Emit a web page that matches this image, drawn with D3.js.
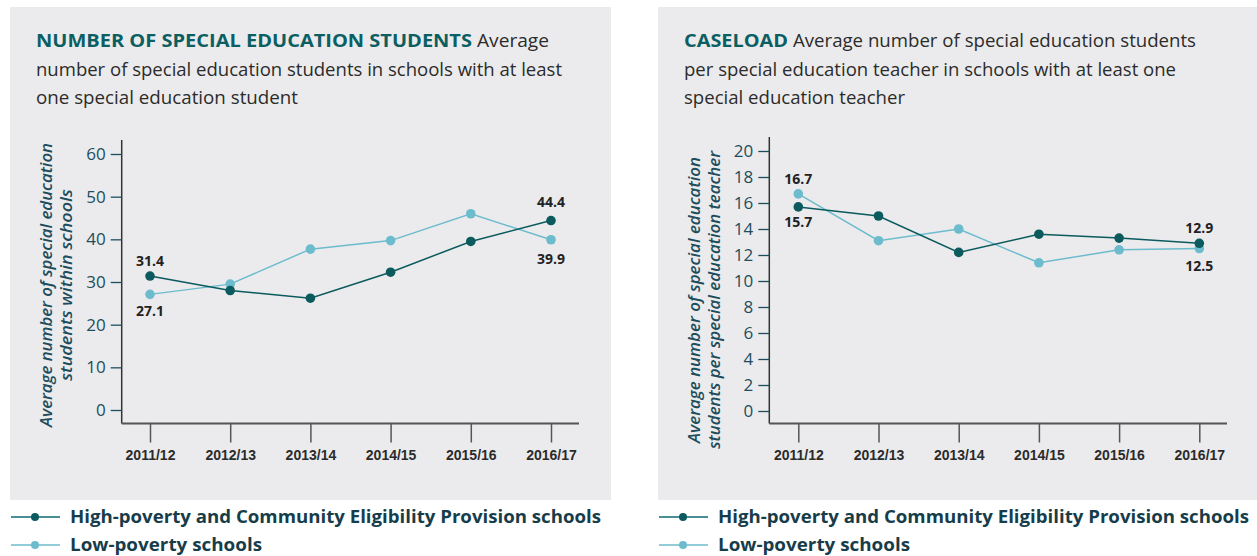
<!DOCTYPE html>
<html>
<head>
<meta charset="utf-8">
<script src="https://cdn.jsdelivr.net/npm/d3@7"></script>
<style>
  body { margin: 0; background: #fff; }
  svg { display: block; font-family: "Open Sans", "Noto Sans", sans-serif; }
</style>
</head>
<body>
<svg id="chart" width="1257" height="556"></svg>
<script>
var years = ["2011/12", "2012/13", "2013/14", "2014/15", "2015/16", "2016/17"];

// number of special education students
var studentsHigh = [31.4, 28.0, 26.2, 32.3, 39.5, 44.4];
var studentsLow = [27.1, 29.5, 37.7, 39.7, 46.0, 39.9];
var studentsTicks = [0, 10, 20, 30, 40, 50, 60];

// caseload
var caseloadHigh = [15.7, 15.0, 12.2, 13.6, 13.3, 12.9];
var caseloadLow = [16.7, 13.1, 14.0, 11.4, 12.4, 12.5];
var caseloadTicks = [0, 2, 4, 6, 8, 10, 12, 14, 16, 18, 20];

var seriesNames = ["High-poverty and Community Eligibility Provision schools", "Low-poverty schools"];

var darkCol = "#0a5a5e", lightCol = "#6cbccd";
var svg = d3.select("#chart");

function panel(opt) {
  var g = svg.append("g");
  g.append("rect").attr("x", opt.left).attr("y", 7).attr("width", opt.w).attr("height", 493)
    .attr("fill", "#ebebed");

  // title
  var tx = opt.left + 26;
  var t1 = g.append("text").attr("x", tx).attr("y", 47).attr("font-size", 18.5);
  t1.append("tspan").attr("font-weight", 700).attr("fill", "#0b5f63")
    .attr("textLength", opt.boldLen).attr("lengthAdjust", "spacingAndGlyphs").text(opt.bold);
  g.append("text").attr("x", tx + opt.boldLen + 5).attr("y", 47).attr("font-size", 18.5).attr("fill", "#2b2b2b")
    .attr("textLength", opt.restLen).attr("lengthAdjust", "spacingAndGlyphs").text(opt.rest);
  opt.lines.forEach(function(l, i) {
    g.append("text").attr("x", tx).attr("y", 75.5 + i * 28.5).attr("font-size", 18.5).attr("fill", "#2b2b2b")
      .attr("textLength", l[1]).attr("lengthAdjust", "spacingAndGlyphs").text(l[0]);
  });

  var x = d3.scalePoint().domain(years).range([opt.x0, opt.x0 + 401]);
  var y = d3.scaleLinear().domain(opt.domain).range([opt.y0, opt.y1]);

  // y axis
  var ya = g.append("g").attr("transform", "translate(" + opt.ax + ",0)")
    .call(d3.axisLeft(y).tickValues(opt.ticks).tickSize(11).tickPadding(5));
  ya.select(".domain").attr("d", "M0," + (opt.y1 - 14) + "V423.5").attr("stroke", "#333").attr("stroke-width", 1.5);
  ya.selectAll(".tick line").attr("stroke", "#1d4d5c").attr("stroke-width", 1.3);
  ya.selectAll(".tick text").attr("font-size", 17).attr("fill", "#1d4d5c")
    .attr("font-family", "'Open Sans', sans-serif").attr("font-weight", 400);

  // x axis
  var xa = g.append("g").attr("transform", "translate(0,423.5)")
    .call(d3.axisBottom(x).tickSize(19).tickPadding(8));
  xa.select(".domain").attr("d", "M" + opt.ax + ",0H" + opt.axEnd).attr("stroke", "#555").attr("stroke-width", 2);
  xa.selectAll(".tick line").attr("stroke", "#555").attr("stroke-width", 1.5);
  xa.selectAll(".tick text").attr("font-size", 14).attr("font-weight", 700).attr("fill", "#2b2b2b");

  // y label
  var cy = opt.labelY;
  opt.ylab.forEach(function(s, i) {
    g.append("text").attr("transform", "translate(" + opt.labX[i] + "," + cy + ") rotate(-90)")
      .attr("text-anchor", "middle").attr("dominant-baseline", "central")
      .attr("font-size", 16.5).attr("font-style", "italic").attr("font-weight", 600).attr("fill", "#1d4d5c")
      .attr("textLength", opt.labLen[i]).attr("lengthAdjust", "spacingAndGlyphs").text(s);
  });

  var line = d3.line().x(function(d, i) { return x(years[i]); }).y(function(d) { return y(d); });
  [[opt.low, lightCol], [opt.high, darkCol]].forEach(function(s) {
    g.append("path").attr("d", line(s[0])).attr("fill", "none").attr("stroke", s[1]).attr("stroke-width", 1.5);
    g.selectAll(null).data(s[0]).enter().append("circle")
      .attr("cx", function(d, i) { return x(years[i]); })
      .attr("cy", function(d) { return y(d); })
      .attr("r", 4.8).attr("fill", s[1]);
  });

  // value labels at the ends
  opt.valueLabels.forEach(function(v) {
    var arr = v.s === "h" ? opt.high : opt.low;
    g.append("text").attr("x", x(years[v.i])).attr("y", y(arr[v.i]) + v.dy)
      .attr("text-anchor", "middle").attr("font-size", 14).attr("font-weight", 700).attr("fill", "#222")
      .text(arr[v.i].toFixed(1));
  });

  // legend
  [darkCol, lightCol].forEach(function(c, i) {
    var ly = 517 + i * 28;
    g.append("line").attr("x1", opt.left + 1).attr("x2", opt.left + 50).attr("y1", ly).attr("y2", ly)
      .attr("stroke", i === 0 ? "#4a8f96" : "#92ccd8").attr("stroke-width", 2);
    g.append("circle").attr("cx", opt.left + 25).attr("cy", ly).attr("r", 4).attr("fill", c);
    g.append("text").attr("x", opt.left + 60).attr("y", ly + 6).attr("font-size", 17.5).attr("font-weight", 700)
      .attr("fill", "#173d4a").attr("textLength", opt.legLen[i]).attr("lengthAdjust", "spacingAndGlyphs")
      .text(seriesNames[i]);
  });
}

panel({
  left: 10, w: 601,
  bold: "NUMBER OF SPECIAL EDUCATION STUDENTS", boldLen: 436, rest: "Average", restLen: 72,
  lines: [["number of special education students in schools with at least", 526], ["one special education student", 262]],
  x0: 150, ax: 121.7, axEnd: 579, y0: 410, y1: 154, domain: [0, 60], ticks: studentsTicks,
  ylab: ["Average number of special education", "students within schools"], labX: [45, 65], labLen: [284, 192], labelY: 285,
  high: studentsHigh, low: studentsLow,
  valueLabels: [{s: "h", i: 0, dy: -10}, {s: "l", i: 0, dy: 22}, {s: "h", i: 5, dy: -14}, {s: "l", i: 5, dy: 24}],
  legLen: [531, 192]
});

panel({
  left: 658, w: 610,
  bold: "CASELOAD", boldLen: 104, rest: "Average number of special education students", restLen: 403,
  lines: [["per special education teacher in schools with at least one", 492], ["special education teacher", 221]],
  x0: 798.3, ax: 769.3, axEnd: 1227, y0: 411, y1: 151, domain: [0, 20], ticks: caseloadTicks,
  ylab: ["Average number of special education", "students per special education teacher"], labX: [693, 713], labLen: [286, 298], labelY: 300,
  high: caseloadHigh, low: caseloadLow,
  valueLabels: [{s: "l", i: 0, dy: -10}, {s: "h", i: 0, dy: 20}, {s: "h", i: 5, dy: -10}, {s: "l", i: 5, dy: 22}],
  legLen: [531, 192]
});
</script>
</body>
</html>
